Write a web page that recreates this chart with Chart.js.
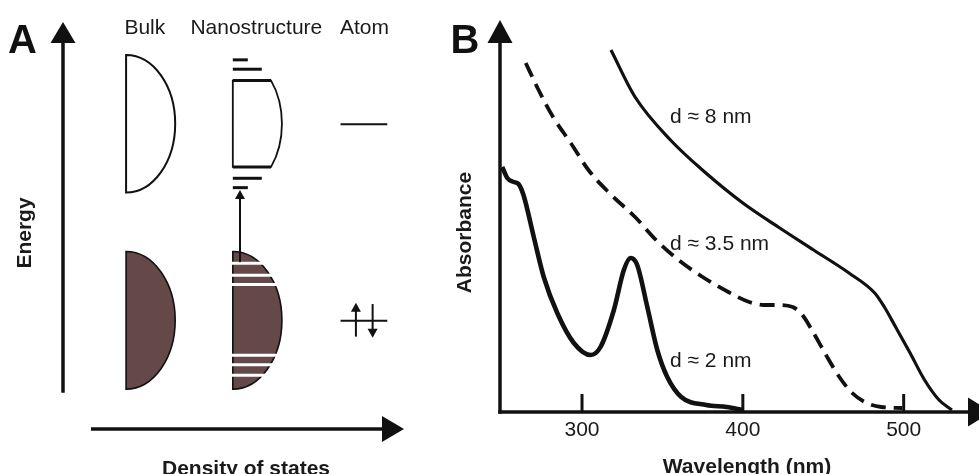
<!DOCTYPE html>
<html>
<head>
<meta charset="utf-8">
<script src="https://cdn.jsdelivr.net/npm/chart.js@4"></script>
<style>
  html, body { margin: 0; padding: 0; background: #fff; overflow: hidden; }
  #wrap { position: relative; width: 979px; height: 474px; }
  canvas { position: absolute; top: 0; }
  #chartA { left: 0; }
  #chartB { left: 420px; }
</style>
</head>
<body>
<div id="wrap">
  <canvas id="chartA" width="420" height="474"></canvas>
  <canvas id="chartB" width="559" height="474"></canvas>
</div>
<script>
const FONT = "'Liberation Sans', Arial, Helvetica, sans-serif";
const INK = "#111111";
const TEXT = "#1a1a1a";
const BAND_FILL = "#654949";

// ---- panel A: energy levels, arbitrary units (x = density of states, y = energy)
const dosColumns = ["Bulk", "Nanostructure", "Atom"];
const dosColumnX = [2.40, 5.67, 8.84];
const columnLabelE = 9.71;
const bandEdgeX = [1.85, 4.98]; // bulk, nanostructure
const bandWidth = 1.44;
const conductionBand = [5.81, 9.19];
const valenceBand = [0.98, 4.36];
const nanoBandCut = [6.44, 8.56];
const nanoLevelE = [9.07, 8.84, 6.16, 5.93];
const nanoLevelLen = [0.44, 0.85, 0.85, 0.44];
const nanoGapE = [4.07, 3.78, 3.55, 1.81, 1.58, 1.32];
const transitionX = 5.19;
const transitionE = [4.10, 5.87];
const atomX = [8.14, 9.51];
const atomLevelE = [7.49, 2.66];
const spinX = [8.59, 9.08];
const spinFromE = [2.27, 3.07];
const spinToE = [3.10, 2.24];
const energyAxisFrom = 0.89;
const dosAxisFrom = 0.82;

// ---- panel B: absorbance spectra (arbitrary absorbance units)
const wavelengthTicks = [300, 400, 500];
const wl8 = [318, 333, 355, 377, 400, 422, 444, 466, 482, 488, 495, 504, 513, 522, 530];
const abs8 = [3.62, 3.15, 2.72, 2.39, 2.09, 1.85, 1.62, 1.39, 1.19, 1.05, 0.85, 0.59, 0.32, 0.12, 0.02];
const wl35 = [265, 273, 282, 293, 304, 317, 333, 346, 360, 375, 391, 404, 413, 422, 431, 437, 444, 451, 460, 468, 477, 486, 499];
const abs35 = [3.49, 3.22, 2.95, 2.69, 2.42, 2.19, 1.95, 1.72, 1.52, 1.35, 1.20, 1.10, 1.07, 1.07, 1.05, 0.97, 0.79, 0.59, 0.35, 0.19, 0.09, 0.05, 0.04];
const wl2 = [250.4, 253.5, 257.6, 260.5, 263.6, 270, 276.2, 284.6, 294.9, 305.3, 311.5, 319.8, 326, 330.2, 334.3, 340.6, 346.8, 353, 361.7, 377.3, 390, 400];
const abs2 = [2.45, 2.34, 2.30, 2.28, 2.17, 1.75, 1.35, 0.99, 0.69, 0.57, 0.65, 1.02, 1.42, 1.54, 1.47, 1.05, 0.62, 0.35, 0.15, 0.07, 0.05, 0.02];
const curveLabels = ["d ≈ 8 nm", "d ≈ 3.5 nm", "d ≈ 2 nm"];
const curveLabelWl = [354.7, 354.7, 354.7];
const curveLabelAbs = [2.89, 1.62, 0.45];

const pairs = (xs, ys) => xs.map((v, i) => ({ x: v, y: ys[i] }));

function line(ctx, x1, y1, x2, y2) {
  ctx.beginPath();
  ctx.moveTo(x1, y1);
  ctx.lineTo(x2, y2);
  ctx.stroke();
}

// filled triangle, tip at (x,y), pointing along (dx,dy)
function head(ctx, x, y, dx, dy, len, half) {
  const bx = x - dx * len, by = y - dy * len;
  ctx.beginPath();
  ctx.moveTo(x, y);
  ctx.lineTo(bx - dy * half, by + dx * half);
  ctx.lineTo(bx + dy * half, by - dx * half);
  ctx.closePath();
  ctx.fill();
}

const schematic = {
  id: "schematic",
  afterDraw(chart) {
    const { ctx, chartArea: area, scales: { x, y } } = chart;
    const px = v => x.getPixelForValue(v);
    const py = v => y.getPixelForValue(v);
    const rx = px(bandEdgeX[0] + bandWidth) - px(bandEdgeX[0]);
    const band = (x0, e) => {
      const t = py(e[1]), b = py(e[0]);
      return { cx: px(x0), cy: (t + b) / 2, ry: (b - t) / 2 };
    };
    const halfAt = (bd, yy) => rx * Math.cos(Math.asin((yy - bd.cy) / bd.ry));
    ctx.save();
    ctx.strokeStyle = INK;
    ctx.fillStyle = INK;

    // axes
    ctx.lineWidth = 3.5;
    line(ctx, area.left, py(energyAxisFrom), area.left, area.top + 18);
    head(ctx, area.left, area.top, 0, -1, 21, 12.5);
    line(ctx, px(dosAxisFrom), area.bottom, area.right - 18, area.bottom);
    head(ctx, area.right, area.bottom, 1, 0, 22, 13);

    // bulk conduction band (empty)
    const bc = band(bandEdgeX[0], conductionBand);
    ctx.lineWidth = 2;
    ctx.beginPath();
    ctx.ellipse(bc.cx, bc.cy, rx, bc.ry, 0, -Math.PI / 2, Math.PI / 2);
    ctx.closePath();
    ctx.stroke();

    // valence bands (filled)
    bandEdgeX.forEach(x0 => {
      const v = band(x0, valenceBand);
      ctx.beginPath();
      ctx.ellipse(v.cx, v.cy, rx, v.ry, 0, -Math.PI / 2, Math.PI / 2);
      ctx.closePath();
      ctx.fillStyle = BAND_FILL;
      ctx.fill();
      ctx.lineWidth = 1.6;
      ctx.stroke();
    });
    ctx.fillStyle = INK;

    // nanostructure conduction band, cut off top and bottom
    const nc = band(bandEdgeX[1], conductionBand);
    const yt = py(nanoBandCut[1]), yb = py(nanoBandCut[0]);
    ctx.lineWidth = 1.8;
    ctx.beginPath();
    ctx.moveTo(nc.cx, yt);
    ctx.ellipse(nc.cx, nc.cy, rx, nc.ry, 0, Math.asin((yt - nc.cy) / nc.ry), Math.asin((yb - nc.cy) / nc.ry));
    ctx.lineTo(nc.cx, yb);
    ctx.closePath();
    ctx.stroke();
    ctx.lineWidth = 3;
    [yt, yb].forEach(yy => line(ctx, nc.cx, yy, nc.cx + halfAt(nc, yy), yy));

    // discrete levels
    nanoLevelE.forEach((e, i) => line(ctx, nc.cx, py(e), px(bandEdgeX[1] + nanoLevelLen[i]), py(e)));

    // gaps in the nanostructure valence band
    const nv = band(bandEdgeX[1], valenceBand);
    ctx.strokeStyle = "#ffffff";
    ctx.lineWidth = 3;
    nanoGapE.forEach(e => {
      const yy = py(e);
      line(ctx, nv.cx - 1, yy, nv.cx + halfAt(nv, yy) + 3, yy);
    });
    ctx.strokeStyle = INK;

    // transition arrow
    ctx.lineWidth = 2;
    line(ctx, px(transitionX), py(transitionE[0]), px(transitionX), py(transitionE[1]) + 8);
    head(ctx, px(transitionX), py(transitionE[1]), 0, -1, 9, 5);

    // atom
    atomLevelE.forEach(e => line(ctx, px(atomX[0]), py(e), px(atomX[1]), py(e)));
    spinX.forEach((sx, i) => {
      const y0 = py(spinFromE[i]), y1 = py(spinToE[i]);
      const d = y1 < y0 ? -1 : 1;
      line(ctx, px(sx), y0, px(sx), y1 - d * 8);
      head(ctx, px(sx), y1, 0, d, 9, 5);
    });

    // texts
    ctx.fillStyle = TEXT;
    ctx.font = "21px " + FONT;
    ctx.textAlign = "center";
    ctx.textBaseline = "alphabetic";
    dosColumns.forEach((t, i) => ctx.fillText(t, px(dosColumnX[i]), py(columnLabelE)));
    ctx.font = "bold 21px " + FONT;
    ctx.fillText("Density of states", 246, 475);
    ctx.save();
    ctx.translate(30.5, 233);
    ctx.rotate(-Math.PI / 2);
    ctx.fillText("Energy", 0, 0);
    ctx.restore();
    ctx.fillStyle = INK;
    ctx.textAlign = "left";
    ctx.font = "bold 40px " + FONT;
    ctx.fillText("A", 8, 53);
    ctx.restore();
  }
};

const axesB = {
  id: "axesB",
  afterDraw(chart) {
    const { ctx, chartArea: area, scales: { x, y } } = chart;
    ctx.save();
    ctx.strokeStyle = INK;
    ctx.fillStyle = INK;
    ctx.lineWidth = 3.5;
    line(ctx, area.left, area.bottom + 1.7, area.left, area.top + 12);
    head(ctx, area.left, area.top - 2, 0, -1, 23, 12.5);
    line(ctx, area.left - 1.7, area.bottom, area.right + 2, area.bottom);
    head(ctx, area.right + 24, area.bottom, 1, 0, 24, 14.5);
    ctx.lineWidth = 3;
    wavelengthTicks.forEach(v => {
      const xx = x.getPixelForValue(v);
      line(ctx, xx, area.bottom, xx, area.bottom - 18);
    });

    ctx.fillStyle = TEXT;
    ctx.font = "21px " + FONT;
    ctx.textAlign = "left";
    ctx.textBaseline = "alphabetic";
    curveLabels.forEach((t, i) => ctx.fillText(t, x.getPixelForValue(curveLabelWl[i]), y.getPixelForValue(curveLabelAbs[i])));

    ctx.font = "bold 21px " + FONT;
    ctx.textAlign = "center";
    ctx.fillText("Wavelength (nm)", 327, 472.5);
    ctx.save();
    ctx.translate(50.5, 232.5);
    ctx.rotate(-Math.PI / 2);
    ctx.fillText("Absorbance", 0, 0);
    ctx.restore();
    ctx.fillStyle = INK;
    ctx.textAlign = "left";
    ctx.font = "bold 40px " + FONT;
    ctx.fillText("B", 30.5, 53.3);
    ctx.restore();
  }
};

const hidden = { grid: { display: false }, border: { display: false }, ticks: { display: false } };

new Chart(document.getElementById("chartA"), {
  type: "scatter",
  data: { datasets: [] },
  options: {
    responsive: false,
    animation: false,
    devicePixelRatio: 1,
    layout: { padding: { top: 22, right: 16, left: 0, bottom: 0 } },
    plugins: { legend: { display: false }, tooltip: { enabled: false } },
    scales: {
      x: { type: "linear", min: 0, max: 10, ...hidden, afterFit: s => { s.height = 45; } },
      y: { type: "linear", min: 0, max: 10, ...hidden, afterFit: s => { s.width = 63; } }
    }
  },
  plugins: [schematic]
});

new Chart(document.getElementById("chartB"), {
  type: "line",
  data: {
    datasets: [
      {
        label: curveLabels[0],
        data: pairs(wl8, abs8),
        borderColor: INK,
        borderWidth: 3.2,
        pointRadius: 0,
        cubicInterpolationMode: "monotone"
      },
      {
        label: curveLabels[1],
        data: pairs(wl35, abs35),
        borderColor: INK,
        borderWidth: 3.8,
        borderDash: [15, 8],
        pointRadius: 0,
        cubicInterpolationMode: "monotone"
      },
      {
        label: curveLabels[2],
        data: pairs(wl2, abs2),
        borderColor: INK,
        borderWidth: 4.6,
        pointRadius: 0,
        cubicInterpolationMode: "monotone"
      }
    ]
  },
  options: {
    responsive: false,
    animation: false,
    devicePixelRatio: 1,
    layout: { padding: { top: 22, right: 11, left: 0, bottom: 0 } },
    plugins: { legend: { display: false }, tooltip: { enabled: false } },
    scales: {
      x: {
        type: "linear",
        min: 249,
        max: 540,
        grid: { display: false },
        border: { display: false },
        afterBuildTicks: s => { s.ticks = wavelengthTicks.map(v => ({ value: v })); },
        ticks: { color: TEXT, padding: -2, font: { family: FONT, size: 21 } },
        afterFit: s => { s.height = 62; }
      },
      y: { type: "linear", min: 0, max: 3.9, ...hidden, afterFit: s => { s.width = 80; } }
    }
  },
  plugins: [axesB]
});
</script>
</body>
</html>
